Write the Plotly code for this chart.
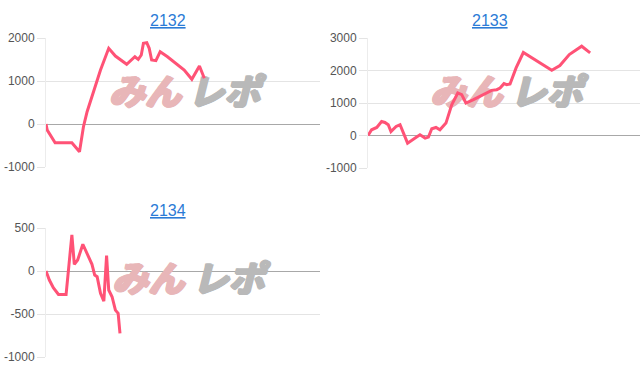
import plotly.graph_objects as go

# ---- data (x = games played, y = difference in medals) ----
titles = ["2132", "2133", "2134"]

games_2132 = [0, 40, 300, 850, 1100, 1230, 1350, 1570, 1790, 2060, 2280, 2650, 2920,
              3030, 3130, 3200, 3310, 3390, 3470, 3610, 3750, 3990, 4540, 4790, 5040, 5200]
diff_2132 = [0, -140, -435, -435, -644, -63, 286, 751, 1256, 1760, 1581, 1388, 1565,
             1504, 1605, 1876, 1891, 1760, 1488, 1472, 1681, 1565, 1256, 1040, 1349, 1063]

games_2133 = [0, 120, 290, 450, 560, 670, 760, 930, 1060, 1310, 1560, 1720, 1890, 2000,
              2110, 2250, 2380, 2580, 2770, 2970, 3100, 3240, 3490, 3820, 4090, 4260,
              4370, 4500, 4590, 4700, 4900, 5140, 6080, 6350, 6460, 6660, 7070, 7350]
diff_2133 = [0, 176, 247, 432, 401, 330, 123, 278, 330, -235, -80, 21, -80, -49,
             206, 247, 176, 382, 947, 1309, 1256, 1000, 1102, 1256, 1389, 1410,
             1462, 1596, 1565, 1586, 2080, 2554, 2006, 2151, 2284, 2491, 2747, 2543]

games_2134 = [0, 110, 240, 410, 660, 850, 930, 1040, 1210, 1370, 1510, 1600, 1680,
              1790, 1900, 1990, 2060, 2170, 2280, 2370, 2430]
diff_2134 = [0, -105, -194, -272, -272, 419, 78, 128, 311, 186, 78, -47, -66,
             -260, -350, 178, -221, -299, -455, -493, -726]

ticks_2132 = [-1000, 0, 1000, 2000]
ticks_2133 = [-1000, 0, 1000, 2000, 3000]
ticks_2134 = [-1000, -500, 0, 500]

X_MAX = 9000

# ---- style ----
LINE_COLOR = "#ff5276"
GRID = "#e4e4e4"
ZERO = "#a8a8a8"
TICKFONT = dict(family="Arial, Liberation Sans, sans-serif", size=12, color="#555555")
TITLE_COLOR = "#2b7bd6"
WM_FONT = "Noto Sans CJK JP"
WM_PINK = "#e8b6b8"
WM_GRAY = "#b9b9b9"


def thick(c):
    return (f"1px 0 0 {c}, -1px 0 0 {c}, 0 1px 0 {c}, 0 -1px 0 {c}, "
            f"2px 0 0 {c}, 1px 1px 0 {c}, -1px -1px 0 {c}")


fig = go.Figure()

panels = [
    dict(games=games_2132, diff=diff_2132, ticks=ticks_2132, xd=[46/640, 320/640],
         yd=[1-167/372, 1-38/372], title_xy=(168/640, 1-20.5/372), wm=(0.36, 0.65, 0.55)),
    dict(games=games_2133, diff=diff_2133, ticks=ticks_2133, xd=[368/640, 1.0],
         yd=[1-168/372, 1-38/372], title_xy=(490/640, 1-20.5/372), wm=(0.36, 0.655, 0.555)),
    dict(games=games_2134, diff=diff_2134, ticks=ticks_2134, xd=[46/640, 320/640],
         yd=[1-357/372, 1-228/372], title_xy=(168/640, 1-210.5/372), wm=(0.372, 0.665, 0.57)),
]

for i, p in enumerate(panels):
    n = "" if i == 0 else str(i + 1)
    xa, ya = "x" + n, "y" + n
    ymin, ymax = p["ticks"][0], p["ticks"][-1]
    fx1, fx2, fy = p["wm"]
    wy = ymin + fy * (ymax - ymin)
    # watermark (drawn beneath the line)
    fig.add_trace(go.Scatter(
        x=[fx1 * X_MAX], y=[wy], mode="text", text=["<i>みん</i>"], xaxis=xa, yaxis=ya,
        textfont=dict(family=WM_FONT, size=36, color=WM_PINK, weight="bold",
                      style="italic", shadow=thick(WM_PINK)),
        hoverinfo="skip", showlegend=False))
    fig.add_trace(go.Scatter(
        x=[fx2 * X_MAX], y=[wy], mode="text", text=["<i>レポ</i>"], xaxis=xa, yaxis=ya,
        textfont=dict(family=WM_FONT, size=36, color=WM_GRAY, weight="bold",
                      style="italic", shadow=thick(WM_GRAY)),
        hoverinfo="skip", showlegend=False))
    fig.add_trace(go.Scatter(
        x=p["games"], y=p["diff"], mode="lines", xaxis=xa, yaxis=ya,
        line=dict(color=LINE_COLOR, width=3), showlegend=False, hoverinfo="skip"))

    fig.layout["xaxis" + n] = dict(domain=p["xd"], range=[0, X_MAX], showgrid=False,
                                   zeroline=False, showticklabels=False, showline=False,
                                   anchor=ya, fixedrange=True, automargin=False)
    fig.layout["yaxis" + n] = dict(domain=p["yd"], range=[ymin, ymax], tickvals=p["ticks"],
                                   ticktext=[str(t) for t in p["ticks"]],
                                   showgrid=True, gridcolor=GRID, gridwidth=1,
                                   zeroline=True, zerolinecolor=ZERO, zerolinewidth=1,
                                   showline=True, linecolor="#ececec", linewidth=1,
                                   ticks="outside", ticklen=8, tickcolor=GRID,
                                   tickfont=TICKFONT, anchor=xa, fixedrange=True,
                                   automargin=False)
    fig.add_annotation(x=p["title_xy"][0], y=p["title_xy"][1], xref="paper", yref="paper",
                       xanchor="center", yanchor="middle",
                       text="<u>" + titles[i] + "</u>", showarrow=False,
                       font=dict(family="Arial, Liberation Sans, sans-serif", size=16,
                                 color=TITLE_COLOR))

fig.update_layout(width=640, height=372,
                  margin=dict(l=0, r=0, t=0, b=0, pad=0, autoexpand=False),
                  paper_bgcolor="white", plot_bgcolor="white")

fig.write_html("out.html", config={"displayModeBar": False})
